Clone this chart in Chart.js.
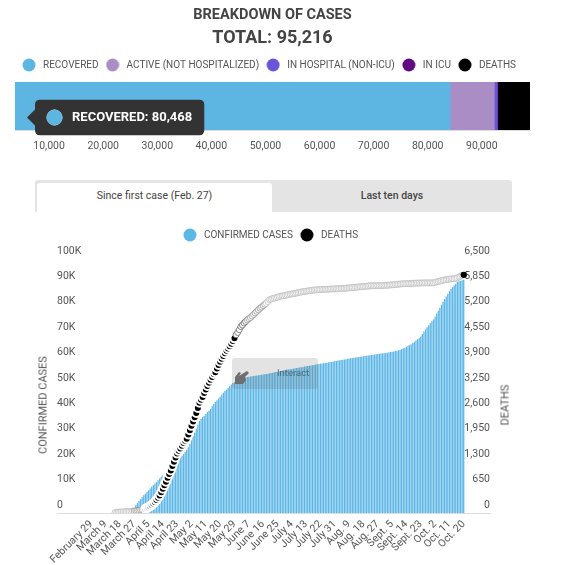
<!DOCTYPE html>
<html>
<head>
<meta charset="utf-8">
<title>Breakdown of cases</title>
<script src="https://cdn.jsdelivr.net/npm/chart.js@4"></script>
<style>
    html, body { margin: 0; padding: 0; background: #fff; overflow: hidden; }
    body { width: 569px; height: 565px; position: relative; font-family: Roboto, sans-serif; }
    canvas { position: absolute; left: 0; }
    #breakdownChart { top: 0; }
    #casesChart { top: 215px; }
    .tabs { position: absolute; left: 35px; top: 180px; width: 477px; height: 32px; background: #e4e4e4; border-radius: 3px 3px 0 0; }
    .tab { position: absolute; top: 3px; height: 29px; line-height: 26px; text-align: center; font-size: 10.5px; color: #444; }
    .tab.active { left: 2px; width: 235px; background: #fff; border-radius: 3px 3px 0 0; }
    .tab.other { left: 237px; width: 240px; font-weight: 500; }
    .interact { position: absolute; left: 232px; top: 358px; width: 86px; height: 31px; background: rgba(90, 90, 90, .17); border-radius: 3px; }
    .interact span { position: absolute; left: 45px; top: 9px; font-size: 9.5px; color: rgba(60, 80, 95, .75); }
    .interact svg { position: absolute; left: 1px; top: 9px; }
    .axis-title { position: absolute; font-size: 11px; line-height: 13px; color: #555; white-space: nowrap; transform: translate(-50%, -50%) rotate(-90deg); }
</style>
</head>
<body>
<canvas id="breakdownChart" width="569" height="172"></canvas>
<div class="tabs">
    <div class="tab active">Since first case (Feb. 27)</div>
    <div class="tab other">Last ten days</div>
</div>
<canvas id="casesChart" width="569" height="350"></canvas>
<div class="axis-title" style="left: 43px; top: 405px;">CONFIRMED CASES</div>
<div class="axis-title" style="left: 505px; top: 405px;">DEATHS</div>
<div class="interact">
    <svg width="20" height="20" viewBox="0 0 20 20"><path d="M2 17 L2 10 L6 5 L8 6 L6 9 L14 4 L16 6 L12 10 L13 13 L10 17 Z" fill="#6e6e6e"/></svg>
    <span>Interact</span>
</div>
<script>
// top bar
const breakdownTitle = 'BREAKDOWN OF CASES';
const breakdownTotal = 'TOTAL: 95,216';
const breakdownLabels = ['RECOVERED', 'ACTIVE (NOT HOSPITALIZED)', 'IN HOSPITAL (NON-ICU)', 'IN ICU', 'DEATHS'];
const breakdownValues = [80468, 8150, 560, 90, 5948];
const breakdownColors = ['#5db5e1', '#a98dc4', '#6a55d8', '#5f0a80', '#000000'];
const breakdownTicks = [10000, 20000, 30000, 40000, 50000, 60000, 70000, 80000, 90000];

// lower chart, one entry per day from Feb. 27
const dateTicks = ['February 29', 'March 9', 'March 18', 'March 27', 'April 5', 'April 14', 'April 23', 'May 2', 'May 11',
    'May 20', 'May 29', 'June 7', 'June 16', 'June 25', 'July 4', 'July 13', 'July 22', 'July 31', 'Aug. 9', 'Aug. 18',
    'Aug. 27', 'Sept. 5', 'Sept. 14', 'Sept. 23', 'Oct. 2', 'Oct. 11', 'Oct. 20'];
const caseTicks = [0, 10000, 20000, 30000, 40000, 50000, 60000, 70000, 80000, 90000, 100000];
const deathTicks = [0, 650, 1300, 1950, 2600, 3250, 3900, 4550, 5200, 5850, 6500];

const confirmedCases = [
    0, 0, 0, 0, 0, 0, 0, 0, 0, 0,
    0, 0, 0, 0, 0, 10, 20, 30, 40, 50,
    60, 70, 90, 120, 150, 200, 300, 400, 600, 1500,
    3100, 3900, 4700, 5400, 6200, 7000, 7600, 8300, 8900, 9600,
    10300, 10900, 11600, 12200, 12900, 13600, 14300, 14900, 15500, 16000,
    16600, 17100, 17600, 18300, 19000, 19700, 20400, 21100, 21800, 22500,
    23200, 24000, 24900, 25900, 27300, 28800, 30200, 31700, 33200, 34800,
    36300, 37000, 37700, 38300, 39000, 39700, 40300, 41000, 42000, 43000,
    43700, 44400, 45100, 45800, 46600, 47300, 48000, 48600, 49300, 49900,
    50600, 51200, 51500, 51800, 52000, 52300, 52500, 52800, 53000, 53300,
    53500, 53600, 53700, 53800, 53900, 54000, 54100, 54200, 54300, 54400,
    54500, 54600, 54700, 54800, 55000, 55100, 55200, 55400, 55500, 55600,
    55800, 55900, 56000, 56200, 56300, 56400, 56500, 56600, 56700, 56800,
    57000, 57100, 57200, 57300, 57400, 57500, 57700, 57800, 57900, 58000,
    58100, 58200, 58300, 58500, 58600, 58700, 58800, 58900, 59000, 59100,
    59200, 59300, 59400, 59500, 59600, 59800, 59900, 60000, 60100, 60200,
    60300, 60400, 60500, 60700, 60800, 60900, 61000, 61100, 61200, 61300,
    61400, 61500, 61600, 61700, 61800, 61900, 62000, 62100, 62200, 62300,
    62400, 62500, 62600, 62700, 62800, 62900, 62900, 63000, 63100, 63300,
    63400, 63500, 63600, 63800, 63900, 64100, 64300, 64500, 64800, 65000,
    65400, 65800, 66100, 66400, 66900, 67400, 67900, 68400, 68900, 69500,
    70500, 71500, 72300, 73100, 73900, 74700, 75500, 76200, 77300, 78500,
    79600, 80800, 82000, 83200, 84200, 85200, 86300, 87300, 88300, 88900,
    89600, 90300, 91000, 91200, 91400, 91600, 91800
];

const deaths = [
    null, null, null, null, null, null, null, null, null, null,
    null, null, null, null, null, null, null, 10, 15, 20,
    25, 25, 30, 30, 35, 35, 40, 40, 45, 50,
    55, 60, 65, 75, 85, 95, 110, 130, 150, 175,
    205, 240, 280, 330, 390, 450, 530, 620, 710, 800,
    900, 1000, 1090, 1200, 1310, 1420, 1520, 1590, 1650, 1720,
    1790, 1850, 1900, 2010, 2120, 2230, 2340, 2450, 2560, 2690,
    2820, 2900, 2970, 3070, 3160, 3250, 3330, 3410, 3480, 3555,
    3600, 3700, 3790, 3870, 3950, 4020, 4088, 4150, 4210, 4270,
    4330, 4400, 4469, 4560, 4620, 4690, 4773, 4810, 4860, 4900,
    4940, 4970, 5000, 5040, 5080, 5120, 5160, 5200, 5240, 5270,
    5306, 5340, 5370, 5410, 5459, 5470, 5490, 5500, 5510, 5525,
    5540, 5550, 5555, 5560, 5570, 5580, 5590, 5600, 5605, 5615,
    5620, 5630, 5640, 5650, 5655, 5662, 5670, 5675, 5680, 5690,
    5695, 5700, 5705, 5710, 5713, 5715, 5718, 5720, 5722, 5725,
    5726, 5728, 5730, 5732, 5734, 5736, 5737, 5738, 5740, 5745,
    5748, 5750, 5755, 5758, 5760, 5763, 5768, 5772, 5776, 5780,
    5784, 5788, 5792, 5796, 5800, 5804, 5808, 5814, 5814, 5815,
    5815, 5816, 5816, 5817, 5818, 5820, 5822, 5825, 5828, 5830,
    5835, 5838, 5842, 5846, 5850, 5855, 5860, 5862, 5865, 5868,
    5870, 5872, 5874, 5876, 5878, 5880, 5882, 5884, 5885, 5886,
    5887, 5888, 5888, 5889, 5889, 5890, 5890, 5890, 5900, 5916,
    5925, 5935, 5945, 5955, 5965, 5975, 5980, 5985, 5992, 5992,
    5995, 6005, 6020, 6040, 6060, 6080, 6094
];

const textColor = '#555';
const baseFont = { family: 'Roboto', size: 10.5 };
const legendFont = { family: 'Roboto', size: 10 };

Chart.defaults.font.family = 'Roboto';
Chart.defaults.color = textColor;
Chart.defaults.animation = false;

// tooltip stays on the first segment
Chart.Tooltip.positioners.recoveredSpot = function() {
    return { x: 27, y: 117.5 };
};

// round legend marker, wider box so the text sits further from the dot
function legendDot(color) {
    const dot = document.createElement('canvas');
    dot.width = 14;
    dot.height = 14;
    const c = dot.getContext('2d');
    c.fillStyle = color;
    c.beginPath();
    c.arc(7, 7, 6.5, 0, Math.PI * 2);
    c.fill();
    return dot;
}

// extra room under the legend, and a sideways nudge through the row width
function legendSpacing(extraHeight, nudge) {
    return {
        id: 'legendSpacing',
        beforeInit(chart) {
            const fit = chart.legend.fit;
            chart.legend.fit = function() {
                fit.call(this);
                this.height += extraHeight;
                this.lineWidths = this.lineWidths.map(w => w + nudge);
            };
        }
    };
}

window.addEventListener('DOMContentLoaded', function() {
    createBreakdownChart();
    createCasesChart();
});

function createBreakdownChart() {
    const ctx = document.getElementById('breakdownChart').getContext('2d');
    const chart = new Chart(ctx, {
        type: 'bar',
        data: {
            labels: ['Cases'],
            datasets: breakdownLabels.map((label, i) => ({
                label: label,
                data: [breakdownValues[i]],
                backgroundColor: breakdownColors[i],
                barPercentage: 1,
                categoryPercentage: 1
            }))
        },
        plugins: [legendSpacing(2, 0)],
        options: {
            indexAxis: 'y',
            responsive: false,
            events: [],
            layout: { padding: { left: 15, right: 39 } },
            scales: {
                x: {
                    stacked: true,
                    min: 0,
                    max: 95216,
                    grid: { display: false, drawTicks: false },
                    border: { color: '#ddd' },
                    afterBuildTicks: axis => { axis.ticks = breakdownTicks.map(v => ({ value: v })); },
                    afterFit: axis => { axis.height = 42; },
                    ticks: {
                        font: baseFont,
                        labelOffset: -20,
                        padding: 10,
                        maxRotation: 0,
                        callback: v => v.toLocaleString('en-US')
                    }
                },
                y: { stacked: true, display: false }
            },
            plugins: {
                title: {
                    display: true,
                    text: breakdownTitle,
                    color: '#444',
                    font: { size: 14.5, weight: 'bold' },
                    padding: { top: 7, bottom: 3 }
                },
                subtitle: {
                    display: true,
                    text: breakdownTotal,
                    color: '#444',
                    font: { size: 18, weight: 'bold' },
                    padding: { bottom: 6 }
                },
                legend: {
                    align: 'start',
                    labels: {
                        usePointStyle: true,
                        pointStyleWidth: 18,
                        boxHeight: 9,
                        padding: 5,
                        color: textColor,
                        font: legendFont,
                        generateLabels: chart => Chart.defaults.plugins.legend.labels.generateLabels(chart)
                            .map((item, i) => ({ ...item, pointStyle: legendDot(breakdownColors[i]) }))
                    }
                },
                tooltip: {
                    position: 'recoveredSpot',
                    backgroundColor: '#333',
                    bodyColor: '#fff',
                    bodyFont: { family: 'Roboto', size: 13, weight: 'bold' },
                    cornerRadius: 5,
                    caretSize: 8,
                    caretPadding: 0,
                    xAlign: 'left',
                    yAlign: 'center',
                    padding: { x: 12, y: 10 },
                    usePointStyle: true,
                    boxWidth: 15,
                    boxHeight: 15,
                    boxPadding: 8,
                    callbacks: {
                        title: () => '',
                        label: item => `${item.dataset.label}: ${item.raw.toLocaleString('en-US')}`,
                        labelColor: () => ({ borderColor: breakdownColors[0], backgroundColor: breakdownColors[0] }),
                        labelPointStyle: () => ({ pointStyle: 'circle', rotation: 0 })
                    }
                }
            }
        }
    });

    chart.tooltip.setActiveElements([{ datasetIndex: 0, index: 0 }], { x: 27, y: 117 });
    chart.update();
}

// black stretch in the spring, pale before and after it, last point black
function isBlackPoint(i) {
    return i >= 36 && i <= 92;
}

function isLastPoint(i) {
    return i === deaths.length - 1;
}

function deathBorder(i) {
    if (isLastPoint(i)) return '#000';
    if (isBlackPoint(i)) return '#fff';
    if (i > 92 && i < 100) return '#555';
    if ((i >= 100 && i < 112) || (i > 28 && i < 36)) return '#888';
    return '#b5b5b5';
}

function createCasesChart() {
    const ctx = document.getElementById('casesChart').getContext('2d');
    const legendColors = ['#5cb6e6', '#000000'];
    new Chart(ctx, {
        data: {
            datasets: [
                {
                    type: 'line',
                    label: 'DEATHS',
                    yAxisID: 'yDeaths',
                    data: deaths.map((v, i) => ({ x: i, y: v })),
                    showLine: false,
                    order: 0,
                    pointRadius: c => isLastPoint(c.dataIndex) ? 3.2 : (isBlackPoint(c.dataIndex) ? 4 : 3),
                    pointBorderWidth: c => isLastPoint(c.dataIndex) ? 0 : (isBlackPoint(c.dataIndex) ? 2 : 0.7),
                    pointBackgroundColor: c => isLastPoint(c.dataIndex) || isBlackPoint(c.dataIndex) ? '#000' : '#fff',
                    pointBorderColor: c => deathBorder(c.dataIndex)
                },
                {
                    type: 'bar',
                    label: 'CONFIRMED CASES',
                    yAxisID: 'yCases',
                    data: confirmedCases.map((v, i) => ({ x: i, y: v })),
                    order: 1,
                    backgroundColor: '#5cb6e6',
                    barPercentage: 0.8,
                    categoryPercentage: 1
                }
            ]
        },
        plugins: [legendSpacing(9, 8)],
        options: {
            responsive: false,
            events: [],
            layout: { padding: { left: 57, right: 79, top: 10 } },
            scales: {
                x: {
                    type: 'linear',
                    offset: false,
                    min: -19.5,
                    max: 252.5,
                    grid: { display: false, drawTicks: false },
                    border: { color: '#ddd' },
                    afterBuildTicks: axis => { axis.ticks = dateTicks.map((t, i) => ({ value: 2 + 9 * i })); },
                    afterFit: axis => { axis.height = 52; },
                    ticks: {
                        font: baseFont,
                        padding: 5,
                        minRotation: 45,
                        maxRotation: 45,
                        autoSkip: false,
                        callback: v => dateTicks[(v - 2) / 9]
                    }
                },
                yCases: {
                    position: 'left',
                    min: 0,
                    max: 100000,
                    grid: { display: false, drawTicks: false },
                    border: { display: false },
                    afterBuildTicks: axis => { axis.ticks = caseTicks.map(v => ({ value: v })); },
                    ticks: {
                        mirror: true,
                        padding: 0,
                        labelOffset: -8,
                        font: baseFont,
                        callback: v => v === 0 ? '0' : (v / 1000) + 'K'
                    }
                },
                yDeaths: {
                    position: 'right',
                    min: 0,
                    max: 6500,
                    grid: { display: false, drawTicks: false },
                    border: { display: false },
                    afterBuildTicks: axis => { axis.ticks = deathTicks.map(v => ({ value: v })); },
                    ticks: {
                        mirror: true,
                        padding: 0,
                        labelOffset: -8,
                        font: baseFont,
                        callback: v => v.toLocaleString('en-US')
                    }
                }
            },
            plugins: {
                legend: {
                    reverse: true,
                    labels: {
                        usePointStyle: true,
                        pointStyleWidth: 18,
                        boxHeight: 9,
                        padding: 5,
                        color: textColor,
                        font: legendFont,
                        generateLabels: chart => Chart.defaults.plugins.legend.labels.generateLabels(chart)
                            .map(item => ({ ...item, pointStyle: legendDot(item.datasetIndex === 1 ? legendColors[0] : legendColors[1]) }))
                    }
                },
                tooltip: { enabled: false }
            }
        }
    });
}
</script>
</body>
</html>
